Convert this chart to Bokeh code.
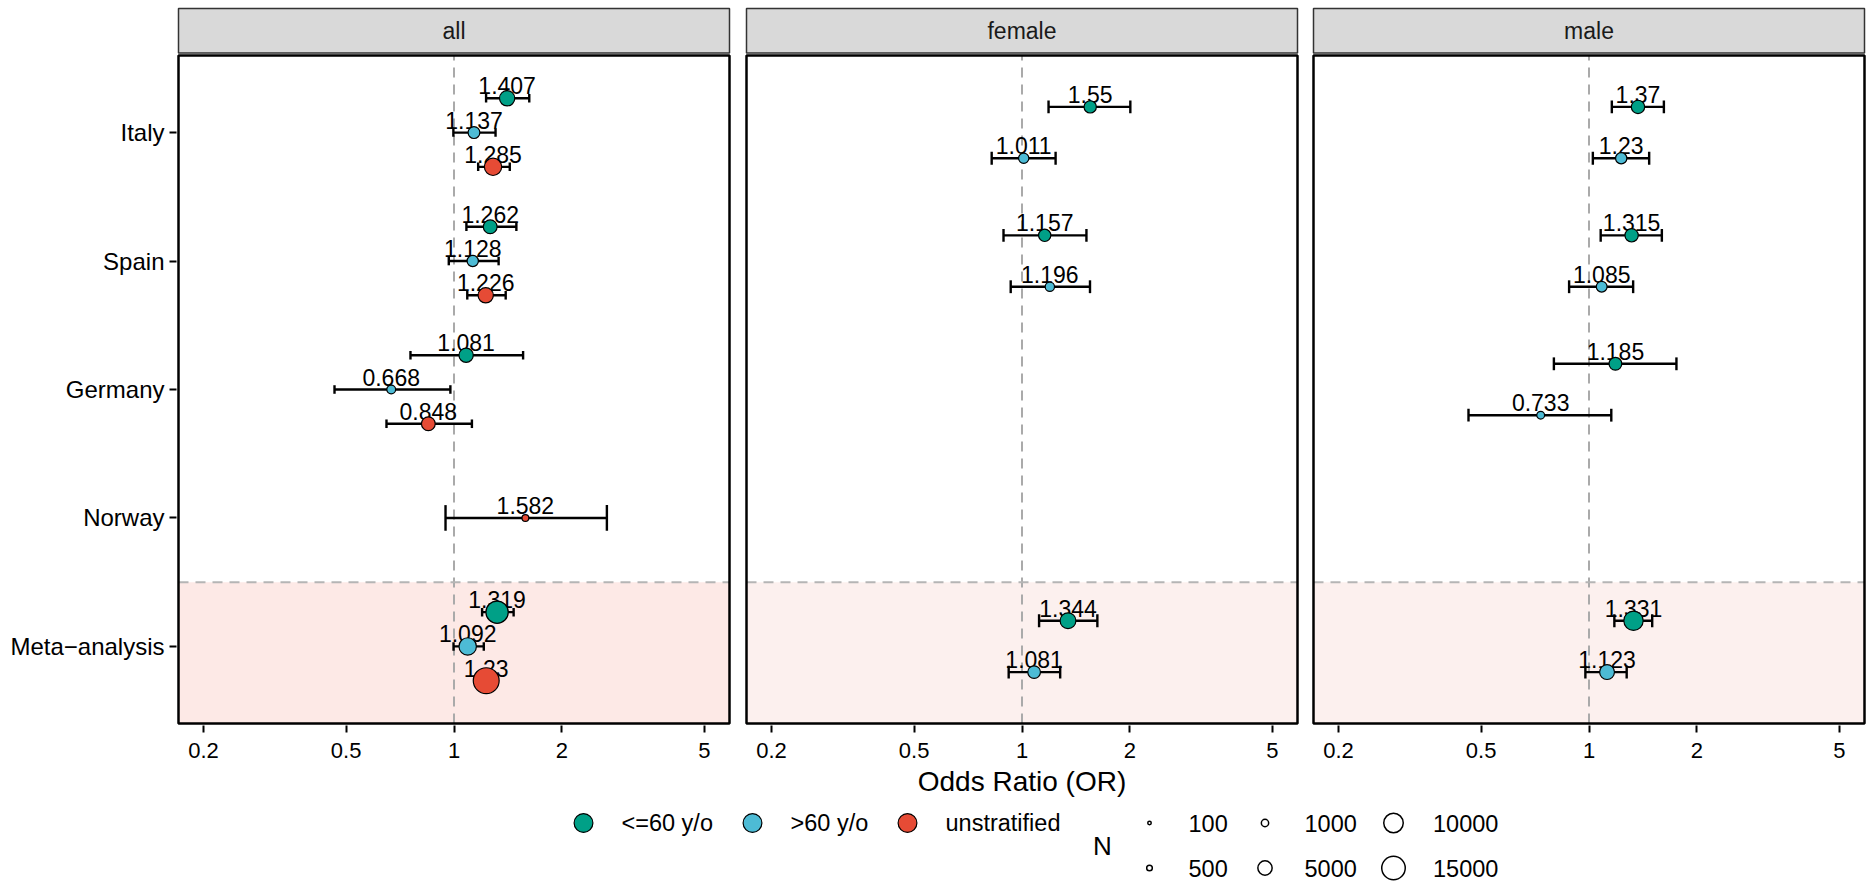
import numpy as np
from bokeh.plotting import figure
from bokeh.models import Range1d, FixedTicker, ColumnDataSource
from bokeh.layouts import row, column
from bokeh.embed import file_html
from bokeh.resources import INLINE
from bokeh.core.properties import value

# ---------------- data ----------------
panels = ["all", "female", "male"]
regions = ["Meta−analysis", "Norway", "Germany", "Spain", "Italy"]   # y = 1..5, bottom -> top
groups = ["<=60 y/o", ">60 y/o", "unstratified"]
group_colors = ["#00A087", "#4DBBD5", "#E64B35"]
x_ticks = [0.2, 0.5, 1, 2, 5]
x_limits = [0.2, 5]
size_breaks = [100, 500, 1000, 5000, 10000, 15000]

row_panel = ["all"] * 13 + ["female"] * 6 + ["male"] * 8
row_region = ["Italy", "Italy", "Italy", "Spain", "Spain", "Spain",
              "Germany", "Germany", "Germany", "Norway",
              "Meta−analysis", "Meta−analysis", "Meta−analysis",
              "Italy", "Italy", "Spain", "Spain", "Meta−analysis", "Meta−analysis",
              "Italy", "Italy", "Spain", "Spain", "Germany", "Germany",
              "Meta−analysis", "Meta−analysis"]
row_group = ["<=60 y/o", ">60 y/o", "unstratified", "<=60 y/o", ">60 y/o", "unstratified",
             "<=60 y/o", ">60 y/o", "unstratified", "unstratified",
             "<=60 y/o", ">60 y/o", "unstratified",
             "<=60 y/o", ">60 y/o", "<=60 y/o", ">60 y/o", "<=60 y/o", ">60 y/o",
             "<=60 y/o", ">60 y/o", "<=60 y/o", ">60 y/o", "<=60 y/o", ">60 y/o",
             "<=60 y/o", ">60 y/o"]
odds_ratio = [1.407, 1.137, 1.285, 1.262, 1.128, 1.226, 1.081, 0.668, 0.848, 1.582,
              1.319, 1.092, 1.23,
              1.55, 1.011, 1.157, 1.196, 1.344, 1.081,
              1.37, 1.23, 1.315, 1.085, 1.185, 0.733, 1.331, 1.123]
ci_low = [1.229, 0.996, 1.168, 1.083, 0.967, 1.089, 0.756, 0.464, 0.648, 0.947,
          1.198, 0.997, 1.17,
          1.186, 0.823, 0.888, 0.930, 1.116, 0.918,
          1.158, 1.025, 1.078, 0.880, 0.798, 0.461, 1.177, 0.977]
ci_high = [1.622, 1.306, 1.431, 1.493, 1.332, 1.394, 1.559, 0.977, 1.122, 2.671,
           1.467, 1.211, 1.29,
           2.006, 1.241, 1.513, 1.548, 1.623, 1.278,
           1.618, 1.472, 1.597, 1.328, 1.754, 1.154, 1.501, 1.274]
sample_n = [5580, 3030, 7390, 4390, 2730, 5580, 4770, 1460, 4390, 730,
            13000, 7500, 18000,
            3350, 2170, 3350, 1680, 6000, 3600,
            4030, 2730, 4030, 2440, 3680, 1060, 9500, 5200]

# ---------------- style / layout (page pixels) ----------------
FONT = "Liberation Sans"
PANEL_W = 551
PANEL_LEFTS = [178, 746, 1313]
PANEL_TOP, PANEL_BOTTOM = 55, 723
PANEL_H = PANEL_BOTTOM - PANEL_TOP
FRAME_TOP = 6
FRAME_PAD = 2
STRIP_TOP, STRIP_BOTTOM = 8, 52.5
Y_LO, Y_HI = 0.4, 5.6
META_SPLIT = 1.5
DODGE = 0.8
CAP = 0.2
LINE_W_POINT = 1.2
BOTTOM_BORDER = 85
TOTAL_W, TOTAL_H = 1866, 882


def point_diameter(n):
    return 3.2 + 0.178 * np.sqrt(np.asarray(n, dtype=float))


def fmt(v):
    return f"{v:.3f}".rstrip("0").rstrip(".")


def make_panel(k, panel):
    first, last = k == 0, k == len(panels) - 1
    lo_l, hi_l = np.log10(x_limits[0]), np.log10(x_limits[1])
    cen = (lo_l + hi_l) / 2
    half = (hi_l - lo_l) / 2 * 1.1
    dec_px = PANEL_W / (2 * half)
    pad = FRAME_PAD / dec_px
    S = PANEL_H / (Y_HI - Y_LO)
    xr = Range1d(10 ** (cen - half - pad), 10 ** (cen + half + pad))
    yr = Range1d(Y_LO - FRAME_PAD / S, Y_HI + (PANEL_TOP - FRAME_TOP) / S)

    frame_l = PANEL_LEFTS[k] - FRAME_PAD
    frame_r = PANEL_LEFTS[k] + PANEL_W + FRAME_PAD
    prev_r = 0 if first else PANEL_LEFTS[k - 1] + PANEL_W + FRAME_PAD
    next_l = TOTAL_W if last else PANEL_LEFTS[k + 1] - FRAME_PAD
    left_b = frame_l - prev_r if first else (frame_l - prev_r) - (frame_l - prev_r) // 2
    right_b = (next_l - frame_r) // 2 if not last else next_l - frame_r

    p = figure(x_axis_type="log", x_range=xr, y_range=yr,
               frame_width=PANEL_W + 2 * FRAME_PAD,
               frame_height=PANEL_BOTTOM + FRAME_PAD - FRAME_TOP,
               min_border_left=left_b, min_border_right=right_b,
               min_border_top=FRAME_TOP, min_border_bottom=BOTTOM_BORDER,
               y_axis_location="left" if first else None,
               toolbar_location=None, output_backend="svg")
    p.outline_line_color = None
    p.grid.visible = False
    p.background_fill_color = "white"
    p.border_fill_color = "white"

    x0, x1 = 10 ** (cen - half), 10 ** (cen + half)

    # meta-analysis shading + separators
    shade = "#FDE9E6" if panel == "all" else "#FCF0EE"
    p.quad(left=[x0], right=[x1], bottom=[Y_LO], top=[META_SPLIT],
           fill_color=shade, line_color=None)
    p.segment(x0=[1], x1=[1], y0=[Y_LO], y1=[Y_HI], line_color="#AAAAAA",
              line_width=2, line_dash="10 7")
    p.segment(x0=[x0], x1=[x1], y0=[META_SPLIT], y1=[META_SPLIT],
              line_color="#B5B5B5", line_width=2, line_dash="10 7")

    # rows of this panel
    idx = [i for i, pn in enumerate(row_panel) if pn == panel]
    ys, caps, cols, sizes, labs = [], [], [], [], []
    for i in idx:
        reg = row_region[i]
        present = [g for g in groups
                   if any(row_panel[j] == panel and row_region[j] == reg and row_group[j] == g
                          for j in idx)]
        n = len(present)
        pos = present.index(row_group[i])
        base = regions.index(reg) + 1
        ys.append(base + ((n - 1) / 2 - pos) * DODGE / n)
        caps.append(CAP / n / 2)
        cols.append(group_colors[groups.index(row_group[i])])
        sizes.append(float(point_diameter(sample_n[i])) - LINE_W_POINT)
        labs.append(fmt(odds_ratio[i]))
    ys = np.array(ys)
    caps = np.array(caps)
    src = ColumnDataSource(dict(
        x=[odds_ratio[i] for i in idx], lo=[ci_low[i] for i in idx],
        hi=[ci_high[i] for i in idx], y=ys, yc0=ys - caps, yc1=ys + caps,
        color=cols, size=sizes, label=labs))

    p.text(x="x", y="y", text="label", source=src, text_align="center",
           text_baseline="middle", y_offset=-12.5, text_font=value(FONT),
           text_font_size="23px", text_color="black")
    p.segment(x0="lo", x1="hi", y0="y", y1="y", source=src, line_color="black", line_width=2.4)
    p.segment(x0="lo", x1="lo", y0="yc0", y1="yc1", source=src, line_color="black", line_width=2.4)
    p.segment(x0="hi", x1="hi", y0="yc0", y1="yc1", source=src, line_color="black", line_width=2.4)
    p.scatter(x="x", y="y", size="size", source=src, fill_color="color",
              line_color="black", line_width=LINE_W_POINT)

    # panel border and facet strip
    p.quad(left=[x0], right=[x1], bottom=[Y_LO], top=[Y_HI], fill_color=None,
           line_color="black", line_width=2.5)
    s_bot = Y_HI + (PANEL_TOP - STRIP_BOTTOM) / S
    s_top = Y_HI + (PANEL_TOP - STRIP_TOP) / S
    p.quad(left=[x0], right=[x1], bottom=[s_bot], top=[s_top], fill_color="#D9D9D9",
           line_color="#333333", line_width=1.5)
    p.text(x=[10 ** cen], y=[(s_bot + s_top) / 2], text=[panel], text_align="center",
           text_baseline="middle", text_font=value(FONT), text_font_size="23px",
           text_color="#1A1A1A")

    # x axis
    xa = p.xaxis[0]
    xa.ticker = FixedTicker(ticks=x_ticks, minor_ticks=[])
    xa.major_label_overrides = {t: f"{t:g}" for t in x_ticks}
    xa.axis_line_color = None
    xa.major_tick_out = 7
    xa.major_tick_in = 0
    xa.major_tick_line_width = 2
    xa.major_tick_line_color = "black"
    xa.minor_tick_line_color = None
    xa.major_label_standoff = 10
    xa.major_label_text_font = FONT
    xa.major_label_text_font_size = "22px"
    xa.major_label_text_color = "black"
    if k == 1:
        xa.axis_label = "Odds Ratio (OR)"
        xa.axis_label_text_font = FONT
        xa.axis_label_text_font_size = "28px"
        xa.axis_label_text_font_style = "normal"
        xa.axis_label_text_color = "black"
        xa.axis_label_standoff = 5

    if first:
        ya = p.yaxis[0]
        ya.ticker = FixedTicker(ticks=list(range(1, len(regions) + 1)), minor_ticks=[])
        ya.major_label_overrides = {i + 1: r for i, r in enumerate(regions)}
        ya.axis_line_color = None
        ya.major_tick_out = 7
        ya.major_tick_in = 0
        ya.major_tick_line_width = 2
        ya.major_tick_line_color = "black"
        ya.minor_tick_line_color = None
        ya.major_label_standoff = 5
        ya.major_label_text_font = FONT
        ya.major_label_text_font_size = "24px"
        ya.major_label_text_color = "black"
    return p


figs = [make_panel(k, pn) for k, pn in enumerate(panels)]

# ---------------- legend ----------------
LEG_TOP = FRAME_TOP + (PANEL_BOTTOM + FRAME_PAD - FRAME_TOP) + BOTTOM_BORDER
LEG_BOTTOM = TOTAL_H
leg = figure(width=TOTAL_W, height=LEG_BOTTOM - LEG_TOP,
             x_range=Range1d(0, TOTAL_W), y_range=Range1d(LEG_BOTTOM, LEG_TOP),
             min_border=0, x_axis_location=None, y_axis_location=None,
             toolbar_location=None, output_backend="svg")
leg.outline_line_color = None
leg.grid.visible = False

ROW1, ROW2 = 822.5, 867.5
key_x = [583, 752, 907]
key_text_x = [621, 790, 945]
leg.scatter(x=key_x, y=[ROW1] * 3, size=20 - LINE_W_POINT, fill_color=group_colors,
            line_color="black", line_width=LINE_W_POINT)
leg.text(x=key_text_x, y=[ROW1] * 3, text=groups, text_align="left", text_baseline="middle",
         text_font=value(FONT), text_font_size="23.5px", text_color="black")

leg.text(x=[1102], y=[(ROW1 + ROW2) / 2], text=["N"], text_align="center",
         text_baseline="middle", text_font=value(FONT), text_font_size="26px",
         text_color="black")
size_col_x = [1149, 1264.5, 1393]
size_lab_x = [1188, 1304, 1432.5]
sx = [size_col_x[i // 2] for i in range(len(size_breaks))]
sy = [ROW1 if i % 2 == 0 else ROW2 for i in range(len(size_breaks))]
slx = [size_lab_x[i // 2] for i in range(len(size_breaks))]
leg.scatter(x=sx, y=sy, size=list(point_diameter(size_breaks) - 1.5), fill_color="white",
            line_color="black", line_width=1.5)
leg.text(x=slx, y=sy, text=[str(b) for b in size_breaks], text_align="left",
         text_baseline="middle", text_font=value(FONT), text_font_size="23.5px",
         text_color="black")

layout = column(row(*figs, spacing=0), leg, spacing=0)
open("out.html", "w").write(file_html(layout, INLINE))
